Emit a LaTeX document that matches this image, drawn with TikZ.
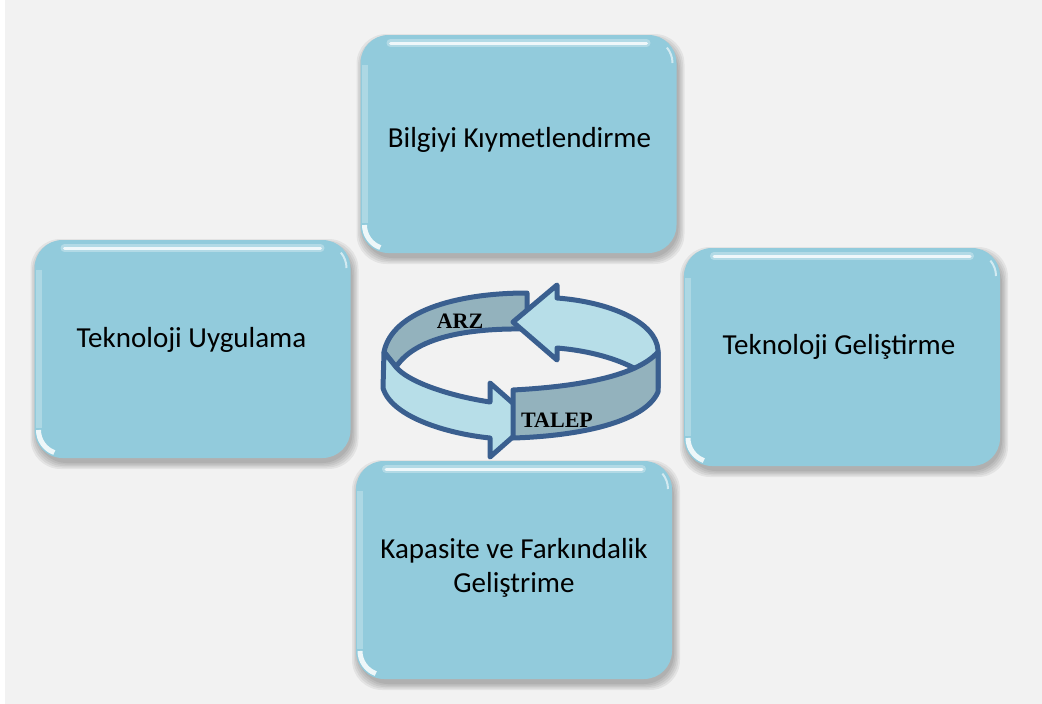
\documentclass[tikz,border=0pt]{standalone}
\usepackage{fontspec}
\setmainfont{Carlito}
\newfontfamily\serifb{Liberation Serif}
\usetikzlibrary{calc}
\definecolor{bg}{HTML}{F2F2F2}
\definecolor{boxfill}{HTML}{92CBDC}
\definecolor{ringline}{HTML}{3A5F8F}
\definecolor{ringdark}{HTML}{93B2BD}
\definecolor{ringlight}{HTML}{B7DEE8}
\newcommand\cardbox[6]{%
  \foreach \e in {0,1.5,3,4.5,6}{%
    \fill[black,opacity=0.06,rounded corners=30pt]
      ({#2-158-\e+2},{#3-109-\e+5}) rectangle ({#2+158+\e+2},{#3+109+\e+5});}
  \node[card] (#1) at (#2,#3) {};
  \node[cardtext] (#1t) at (#4,#5) {#6};
}
\begin{document}
\begin{tikzpicture}[x=1pt,y=-1pt,
  card/.style={rounded corners=28pt, fill=boxfill, minimum width=316pt,
    minimum height=218pt, inner sep=0pt,
    path picture={
      \draw[white, opacity=.3, line width=8pt, line cap=round]
        ($(path picture bounding box.north west)+(30pt,-8pt)$) --
        ($(path picture bounding box.north east)+(-30pt,-8pt)$);
      \draw[white, opacity=.8, line width=3pt, line cap=round]
        ($(path picture bounding box.north west)+(30pt,-8pt)$) --
        ($(path picture bounding box.north east)+(-30pt,-8pt)$);
      \draw[white, opacity=.25, line width=6pt]
        ($(path picture bounding box.north west)+(4pt,-30pt)$) --
        ($(path picture bounding box.south west)+(4pt,30pt)$);
      \draw[white, opacity=.85, line width=5pt]
        ($(path picture bounding box.south west)+(4pt,28pt)$)
        arc[start angle=180, end angle=250, radius=24pt];
      \draw[white, opacity=.6, line width=2pt]
        ($(path picture bounding box.north east)+(-4pt,-28pt)$)
        arc[start angle=0, end angle=40, radius=24pt];
    }},
  cardtext/.style={font=\fontsize{29}{34}\selectfont, align=center, text=black, inner sep=0pt},
  ring/.style={draw=ringline, line width=5pt, line join=round},
  ringlbl/.style={font=\serifb\bfseries\fontsize{22}{24}\selectfont, inner sep=0pt}
]
\useasboundingbox (0,0) rectangle (1042,704);
\fill[white] (0,0) rectangle (1042,704);
\fill[bg] (5,0) rectangle (1042,704);

\cardbox{top}{518.5}{144}{519.5}{140}{Bilgiyi Kıymetlendirme}
\cardbox{left}{192.5}{349}{191.5}{340}{Teknoloji Uygulama}
\cardbox{right}{842}{357}{839}{347}{Teknoloji Geliştirme}
\cardbox{bottom}{514}{570}{514}{568}{Kapasite ve Farkındalik\\Geliştrime}

% ring
\filldraw[ring, fill=ringdark] (384,352) .. controls (392,312) and (455,293) .. (527,293)
  -- (527,329) .. controls (465,328) and (415,338) .. (396,367) -- cycle;
\filldraw[ring, fill=ringlight] (513,322) -- (557,285) -- (557,298)
  .. controls (610,302) and (656,322) .. (658,350) -- (658,388)
  .. controls (645,368) and (605,352) .. (557,348) -- (557,360) -- cycle;
\filldraw[ring, fill=ringlight] (384,352) -- (383,388)
  .. controls (392,418) and (450,434) .. (490,438) -- (490,457) -- (532,420)
  -- (490,383) -- (490,402) .. controls (450,396) and (408,382) .. (396,367) -- cycle;
\filldraw[ring, fill=ringdark] (513,390) .. controls (570,387) and (635,378) .. (658,352)
  -- (658,392) .. controls (645,422) and (580,436) .. (513,438) -- cycle;
\node[ringlbl] (arz) at (460,321) {ARZ};
\node[ringlbl] (talep) at (557,420) {TALEP};
\end{tikzpicture}
\end{document}
